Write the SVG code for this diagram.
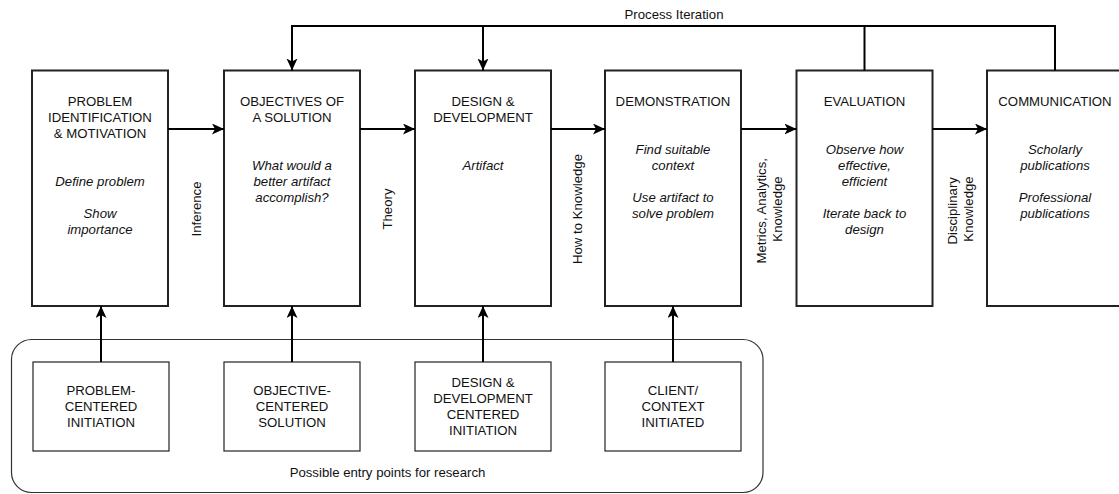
<svg xmlns="http://www.w3.org/2000/svg" width="1119" height="494" viewBox="0 0 1119 494">
  <style>
    .box { fill: #ffffff; stroke: #222222; stroke-width: 2; }
    .entry { fill: #ffffff; stroke: #222222; stroke-width: 1.2; }
    .group { fill: none; stroke: #333333; stroke-width: 1.2; }
    .edge { fill: none; stroke: #000000; stroke-width: 2; }
    text { font-family: "Liberation Sans", Arial, Helvetica, sans-serif; font-size: 13.2px; fill: #111111; }
    .c { text-anchor: middle; }
    .i { font-style: italic; }
  </style>
  <defs>
    <marker id="arrow" markerUnits="userSpaceOnUse" markerWidth="14" markerHeight="12" refX="12" refY="5.5" orient="auto">
      <path d="M0,0 L12,5.5 L0,11 L3,5.5 Z" fill="#000000"/>
    </marker>
  </defs>

  <!-- entry points container -->
  <g id="entry-points">
    <rect class="group" x="11.5" y="339.5" width="751.5" height="153" rx="20" ry="20"/>
    <text class="c" x="387.5" y="477">Possible entry points for research</text>
  </g>

  <!-- process steps -->
  <g id="problem">
    <rect class="box" x="32" y="70.5" width="136" height="235.5"/>
    <text class="c" x="100" y="106">PROBLEM</text>
    <text class="c" x="100" y="122">IDENTIFICATION</text>
    <text class="c" x="100" y="138">&amp; MOTIVATION</text>
    <text class="c i" x="100" y="186">Define problem</text>
    <text class="c i" x="100" y="218">Show</text>
    <text class="c i" x="100" y="234">importance</text>
  </g>
  <g id="objectives">
    <rect class="box" x="224" y="70.5" width="136" height="235.5"/>
    <text class="c" x="292" y="106">OBJECTIVES OF</text>
    <text class="c" x="292" y="122">A SOLUTION</text>
    <text class="c i" x="292" y="170">What would a</text>
    <text class="c i" x="292" y="186">better artifact</text>
    <text class="c i" x="292" y="202">accomplish?</text>
  </g>
  <g id="design">
    <rect class="box" x="415" y="70.5" width="136" height="235.5"/>
    <text class="c" x="483" y="106">DESIGN &amp;</text>
    <text class="c" x="483" y="122">DEVELOPMENT</text>
    <text class="c i" x="483" y="170">Artifact</text>
  </g>
  <g id="demonstration">
    <rect class="box" x="605" y="70.5" width="136" height="235.5"/>
    <text class="c" x="673" y="106">DEMONSTRATION</text>
    <text class="c i" x="673" y="154">Find suitable</text>
    <text class="c i" x="673" y="170">context</text>
    <text class="c i" x="673" y="202">Use artifact to</text>
    <text class="c i" x="673" y="218">solve problem</text>
  </g>
  <g id="evaluation">
    <rect class="box" x="796.5" y="70.5" width="136" height="235.5"/>
    <text class="c" x="864.5" y="106">EVALUATION</text>
    <text class="c i" x="864.5" y="154">Observe how</text>
    <text class="c i" x="864.5" y="170">effective,</text>
    <text class="c i" x="864.5" y="186">efficient</text>
    <text class="c i" x="864.5" y="218">Iterate back to</text>
    <text class="c i" x="864.5" y="234">design</text>
  </g>
  <g id="communication">
    <rect class="box" x="987" y="70.5" width="136" height="235.5"/>
    <text class="c" x="1055" y="106">COMMUNICATION</text>
    <text class="c i" x="1055" y="154">Scholarly</text>
    <text class="c i" x="1055" y="170">publications</text>
    <text class="c i" x="1055" y="202">Professional</text>
    <text class="c i" x="1055" y="218">publications</text>
  </g>

  <!-- entry point boxes -->
  <g id="problem-centered">
    <rect class="entry" x="33" y="362" width="136" height="89"/>
    <text class="c" x="101" y="394.7">PROBLEM-</text>
    <text class="c" x="101" y="410.7">CENTERED</text>
    <text class="c" x="101" y="426.7">INITIATION</text>
  </g>
  <g id="objective-centered">
    <rect class="entry" x="224" y="362" width="136" height="89"/>
    <text class="c" x="292" y="394.7">OBJECTIVE-</text>
    <text class="c" x="292" y="410.7">CENTERED</text>
    <text class="c" x="292" y="426.7">SOLUTION</text>
  </g>
  <g id="design-centered">
    <rect class="entry" x="415" y="362" width="136" height="89"/>
    <text class="c" x="483" y="386.7">DESIGN &amp;</text>
    <text class="c" x="483" y="402.7">DEVELOPMENT</text>
    <text class="c" x="483" y="418.7">CENTERED</text>
    <text class="c" x="483" y="434.7">INITIATION</text>
  </g>
  <g id="client-initiated">
    <rect class="entry" x="605" y="362" width="136" height="89"/>
    <text class="c" x="673" y="394.7">CLIENT/</text>
    <text class="c" x="673" y="410.7">CONTEXT</text>
    <text class="c" x="673" y="426.7">INITIATED</text>
  </g>

  <!-- connectors -->
  <g id="connectors">
    <path class="edge" d="M168,129 H224" marker-end="url(#arrow)"/>
    <path class="edge" d="M360,129 H415" marker-end="url(#arrow)"/>
    <path class="edge" d="M551,129 H605" marker-end="url(#arrow)"/>
    <path class="edge" d="M741,129 H796.5" marker-end="url(#arrow)"/>
    <path class="edge" d="M932.5,129 H987" marker-end="url(#arrow)"/>

    <path class="edge" d="M1055,70.5 V26 H292 V70.5" marker-end="url(#arrow)"/>
    <path class="edge" d="M864.5,70.5 V26"/>
    <path class="edge" d="M483,26 V70.5" marker-end="url(#arrow)"/>

    <path class="edge" d="M101,362 V306" marker-end="url(#arrow)"/>
    <path class="edge" d="M292,362 V306" marker-end="url(#arrow)"/>
    <path class="edge" d="M483,362 V306" marker-end="url(#arrow)"/>
    <path class="edge" d="M673,362 V306" marker-end="url(#arrow)"/>

    <text class="c" x="674" y="19">Process Iteration</text>
    <text class="c" transform="translate(196.5,209) rotate(-90)" y="4.7">Inference</text>
    <text class="c" transform="translate(387.5,209) rotate(-90)" y="4.7">Theory</text>
    <text class="c" transform="translate(577.5,209) rotate(-90)" y="4.7">How to Knowledge</text>
    <text class="c" transform="translate(769,209) rotate(-90)">
      <tspan x="0" y="-3.3">Metrics, Analytics,</tspan>
      <tspan x="0" y="12.7">Knowledge</tspan>
    </text>
    <text class="c" transform="translate(960,209) rotate(-90)">
      <tspan x="0" y="-3.3">Disciplinary</tspan>
      <tspan x="0" y="12.7">Knowledge</tspan>
    </text>
  </g>
</svg>
